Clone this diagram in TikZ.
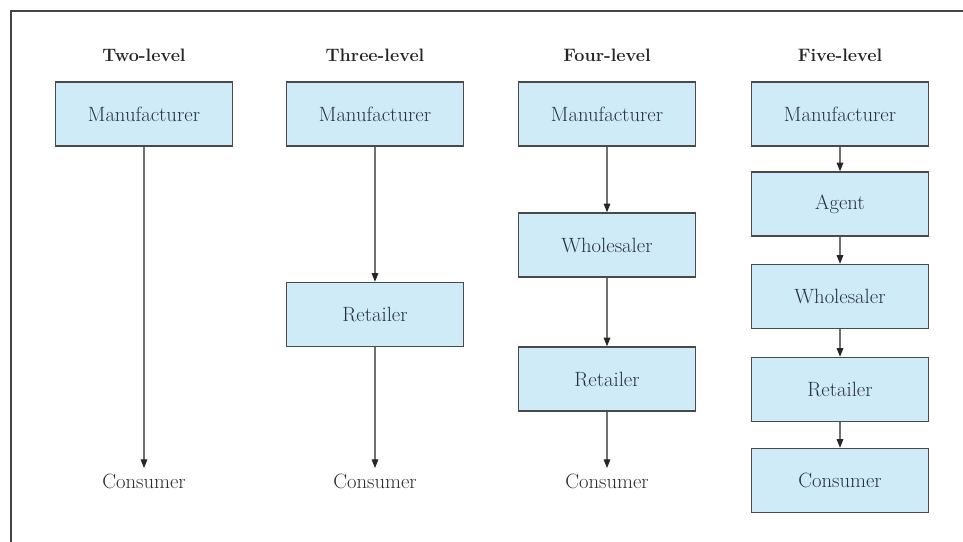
\documentclass[tikz,border=0pt]{standalone}
\usetikzlibrary{arrows.meta}
\definecolor{boxfill}{HTML}{CFEBF8}
\definecolor{boxline}{HTML}{4A4A4A}
\definecolor{boxtext}{HTML}{26343D}
\definecolor{plaintext}{HTML}{2B2B2B}
\definecolor{frameline}{HTML}{454545}
\definecolor{arrline}{HTML}{707070}
\begin{document}
\begin{tikzpicture}[x=0.75pt,y=-0.75pt,
  chbox/.style={draw=boxline,line width=1.1pt,fill=boxfill,minimum width=132.75pt,minimum height=48pt,inner sep=0pt,text=boxtext,font=\fontsize{15.5}{18}\selectfont},
  header/.style={inner sep=0pt,text=black!85,font=\fontsize{13.5}{16}\selectfont\bfseries},
  endtext/.style={inner sep=0pt,text=plaintext,font=\fontsize{15.5}{18}\selectfont},
  flow/.style={draw=arrline,line width=0.8pt,-{Triangle[length=6.5pt,width=5pt,fill=black!85,color=black!85]}}
]
\useasboundingbox (0,0) rectangle (963,542);
\draw[frameline,line width=1.6pt] (11,545) -- (11,11) -- (966,11);

% headers
\node[header] (h1) at (144,55) {Two-level};
\node[header] (h2) at (375,55) {Three-level};
\node[header] (h3) at (607,55) {Four-level};
\node[header] (h4) at (840,55) {Five-level};

% column 1
\node[chbox] (m1) at (144,114) {Manufacturer};
\node[endtext] (c1) at (144,481) {Consumer};
\draw[flow] (m1.south) -- ([yshift=4pt]c1.north);

% column 2
\node[chbox] (m2) at (375,114) {Manufacturer};
\node[chbox] (r2) at (375,314.5) {Retailer};
\node[endtext] (c2) at (375,481) {Consumer};
\draw[flow] (m2.south) -- (r2.north);
\draw[flow] (r2.south) -- ([yshift=4pt]c2.north);

% column 3
\node[chbox] (m3) at (607,114) {Manufacturer};
\node[chbox] (w3) at (607,245) {Wholesaler};
\node[chbox] (r3) at (607,379) {Retailer};
\node[endtext] (c3) at (607,481) {Consumer};
\draw[flow] (m3.south) -- (w3.north);
\draw[flow] (w3.south) -- (r3.north);
\draw[flow] (r3.south) -- ([yshift=4pt]c3.north);

% column 4
\node[chbox] (m4) at (840,114) {Manufacturer};
\node[chbox] (a4) at (840,204) {Agent};
\node[chbox] (w4) at (840,296.5) {Wholesaler};
\node[chbox] (r4) at (840,389.5) {Retailer};
\node[chbox] (c4) at (840,480.5) {Consumer};
\draw[flow] (m4.south) -- (a4.north);
\draw[flow] (a4.south) -- (w4.north);
\draw[flow] (w4.south) -- (r4.north);
\draw[flow] (r4.south) -- (c4.north);
\end{tikzpicture}
\end{document}
